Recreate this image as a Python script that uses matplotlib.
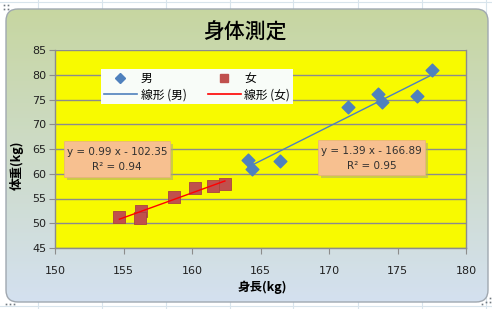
import numpy as np
import matplotlib
matplotlib.use("Agg")
import matplotlib.pyplot as plt
from matplotlib.patches import FancyBboxPatch, Rectangle
from matplotlib.lines import Line2D

plt.rcParams['font.family'] = ['Noto Sans CJK JP', 'DejaVu Sans']

# ---- data ----
male_height = [164.1, 164.4, 166.4, 171.4, 173.6, 173.9, 176.4, 177.5]
male_weight = [62.8, 61.0, 62.5, 73.5, 76.1, 74.5, 75.7, 81.0]
female_height = [154.7, 156.3, 156.2, 158.7, 160.2, 161.5, 162.4]
female_weight = [51.3, 52.5, 51.0, 55.4, 57.2, 57.6, 57.9]
male_eq = ["y = 1.39 x - 166.89", "R² = 0.95"]
female_eq = ["y = 0.99 x - 102.35", "R² = 0.94"]
title = "身体測定"
xlabel = "身長(kg)"
ylabel = "体重(kg)"
legend_labels = ["男", "線形 (男)", "女", "線形 (女)"]

W, H = 492, 309
fig = plt.figure(figsize=(W / 100, H / 100), dpi=100)

# ---- background (spreadsheet + rounded chart area with gradient) ----
bg = fig.add_axes([0, 0, 1, 1], zorder=-10)
bg.set_xlim(0, W)
bg.set_ylim(H, 0)
bg.axis('off')
for x in [38, 102, 166, 230, 293, 358, 422, 486]:
    bg.plot([x, x], [0, H], color='#d8e4ec', lw=0.8, zorder=0)
for y in [2, 306]:
    bg.plot([0, W], [y, y], color='#d8e4ec', lw=0.8, zorder=0)
grad = np.linspace(0, 1, 256)[:, None]
top = np.array([0.78, 0.84, 0.63])
bot = np.array([0.83, 0.88, 0.94])
img = top[None, None, :] * (1 - grad[:, :, None]) + bot[None, None, :] * grad[:, :, None]
img = np.repeat(img, 2, axis=1)
box = FancyBboxPatch((6, 9), 482, 293, boxstyle="round,pad=0,rounding_size=12",
                     facecolor='none', edgecolor='#a0a8b0', lw=1.0, zorder=2)
bg.add_patch(box)
im = bg.imshow(img, extent=[6, 488, 302, 9], aspect='auto', zorder=1)
im.set_clip_path(box)
for (x, y) in [(4, 5), (8, 5), (4, 9), (8, 9), (486, 302), (490, 302), (490, 298),
               (6, 304), (10, 304), (14, 304), (482, 304)]:
    bg.plot(x, y, marker='s', ms=1.2, color='#707880', mew=0, zorder=3)

# ---- main axes ----
x0, x1 = 55, 466
y0, y1 = 50, 248
ax = fig.add_axes([x0 / W, 1 - y1 / H, (x1 - x0) / W, (y1 - y0) / H])
ax.set_facecolor('#f8fa00')
ax.set_xlim(150, 180)
ax.set_ylim(45, 85)
ax.set_xticks(np.arange(150, 181, 5))
ax.set_yticks(np.arange(45, 86, 5))
ax.grid(axis='y', color='#8c8c8c', lw=1.0)
ax.set_axisbelow(True)
for s in ['top', 'right']:
    ax.spines[s].set_visible(False)
for s in ['left', 'bottom']:
    ax.spines[s].set_color('#8c8c8c')
    ax.spines[s].set_linewidth(1.0)
ax.tick_params(axis='both', colors='#8c8c8c', labelcolor='#202020', labelsize=8, length=4)
ax.tick_params(axis='x', pad=9)
ax.tick_params(axis='y', pad=2)
for lab in ax.get_xticklabels() + ax.get_yticklabels():
    lab.set_family('DejaVu Sans')

# right edge line of plot area
ax.plot([1, 1], [0, 1], transform=ax.transAxes, color='#8c8c8c', lw=1.0, clip_on=False)

blue = '#4f81bd'
red = '#c0504d'
ax.scatter(male_height, male_weight, marker='D', s=42, color=blue, edgecolor=blue, zorder=3)
ax.scatter(female_height, female_weight, marker='s', s=80, color=red, edgecolor='#a84440',
           lw=0.6, zorder=3)

mp = np.polyfit(male_height, male_weight, 1)
fp = np.polyfit(female_height, female_weight, 1)
mx = np.array([min(male_height), max(male_height)])
fx = np.array([min(female_height), max(female_height)])
ax.plot(mx, np.polyval(mp, mx), color=blue, lw=1.0, zorder=4)
ax.plot(fx, np.polyval(fp, fx), color='#ff0000', lw=1.0, zorder=4)

handles = [
    Line2D([], [], marker='D', ls='none', color=blue, ms=5),
    Line2D([], [], color=blue, lw=1.2),
    Line2D([], [], marker='s', ls='none', color=red, ms=6),
    Line2D([], [], color='#ff0000', lw=1.2),
]
lx0, lx1, ly0, ly1 = 101, 293, 65, 104
leg = ax.legend(handles, legend_labels, ncol=2, loc='lower left',
                bbox_to_anchor=((lx0 - x0) / (x1 - x0), (y1 - ly1) / (y1 - y0),
                                (lx1 - lx0) / (x1 - x0), (ly1 - ly0) / (y1 - y0)),
                mode='expand', fancybox=False, framealpha=1, facecolor='#f8fcf8',
                edgecolor='none', fontsize=8.5, handlelength=2.8, handletextpad=0.3,
                borderpad=0.25, labelspacing=0.25, columnspacing=1.0, borderaxespad=0)

# ---- equation boxes (overlay) ----
ov = fig.add_axes([0, 0, 1, 1], zorder=10)
ov.set_xlim(0, W)
ov.set_ylim(H, 0)
ov.axis('off')
ov.patch.set_alpha(0)


def eq_box(px0, py0, px1, py1, lines):
    ov.add_patch(Rectangle((px0 + 3, py0 + 3), px1 - px0, py1 - py0,
                           facecolor='#b0b070', edgecolor='none', alpha=0.6, zorder=20))
    ov.add_patch(Rectangle((px0, py0), px1 - px0, py1 - py0,
                           facecolor='#f7c090', edgecolor='#e8b080', lw=0.5, zorder=21))
    cx = (px0 + px1) / 2
    ov.text(cx, py0 + (py1 - py0) * 0.3, lines[0], ha='center', va='center', fontsize=7.5,
            color='#303030', zorder=22, family='DejaVu Sans')
    ov.text(cx, py0 + (py1 - py0) * 0.73, lines[1], ha='center', va='center', fontsize=7.5,
            color='#303030', zorder=22, family='DejaVu Sans')


eq_box(64, 141, 170, 177, female_eq)
eq_box(318, 140, 425, 175, male_eq)

# ---- titles ----
fig.text(245 / W, 1 - 33 / H, title, ha='center', va='center', fontsize=15, fontweight='medium')
fig.text(262 / W, 1 - 287 / H, xlabel, ha='center', va='center', fontsize=9, fontweight='bold')
fig.text(17 / W, 1 - 165 / H, ylabel, ha='center', va='center', fontsize=9, fontweight='bold',
         rotation=90)

fig.savefig('out.png', dpi=100)
